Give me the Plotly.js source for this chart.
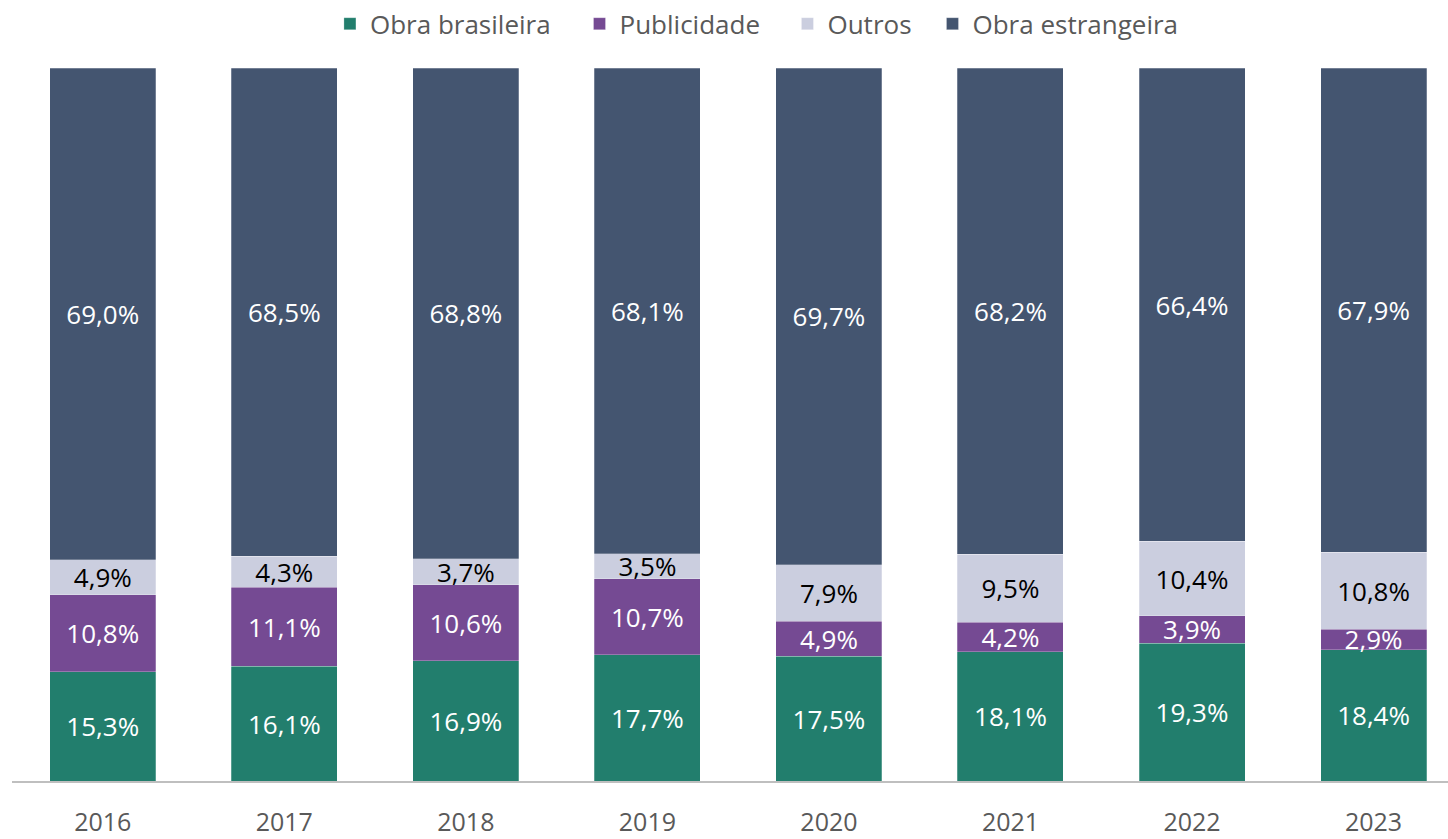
<!DOCTYPE html>
<html>
<head>
<meta charset="utf-8">
<script src="https://cdn.plot.ly/plotly-3.0.1.min.js"></script>
<style>html,body{margin:0;padding:0;background:#fff;}#chart{width:1448px;height:839px;}</style>
</head>
<body>
<div id="chart"></div>
<script>
const years = ['2016','2017','2018','2019','2020','2021','2022','2023'];
const obraBrasileira = [15.3, 16.1, 16.9, 17.7, 17.5, 18.1, 19.3, 18.4];
const publicidade = [10.8, 11.1, 10.6, 10.7, 4.9, 4.2, 3.9, 2.9];
const outros = [4.9, 4.3, 3.7, 3.5, 7.9, 9.5, 10.4, 10.8];
const obraEstrangeira = [69.0, 68.5, 68.8, 68.1, 69.7, 68.2, 66.4, 67.9];

const FONT = '"Segoe UI", "Open Sans", sans-serif';
function mk(name, vals, color, txtColor, leg) {
  return {
    type: 'bar', name: name, x: years, y: vals, legend: leg,
    marker: {color: color, line: {color: 'rgba(255,255,255,0.5)', width: 0.5}},
    texttemplate: '%{y:.1f}%',
    textposition: 'inside', insidetextanchor: 'middle',
    constraintext: 'none',
    textfont: {family: FONT, size: 26, color: txtColor},
    hoverinfo: 'skip'
  };
}
const data = [
  mk('Obra brasileira', obraBrasileira, '#227E6D', '#ffffff', 'legend'),
  mk('Publicidade', publicidade, '#754A93', '#ffffff', 'legend2'),
  mk('Outros', outros, '#CBCEDF', '#000000', 'legend3'),
  mk('Obra estrangeira', obraEstrangeira, '#445570', '#ffffff', 'legend4')
];
function leg(x) {
  return {orientation: 'h', x: x, xanchor: 'left', y: 1.062, yanchor: 'middle',
          bgcolor: 'rgba(0,0,0,0)', font: {family: FONT, size: 26, color: '#595959'}, itemwidth: 30};
}
const layout = {
  width: 1448, height: 839,
  margin: {l: 12, r: 0, t: 68, b: 58},
  barmode: 'stack', bargap: 0.416,
  separators: ',.',
  paper_bgcolor: '#ffffff', plot_bgcolor: '#ffffff',
  font: {family: FONT, size: 26, color: '#595959'},
  showlegend: true,
  legend: leg(0.2214),
  legend2: leg(0.3952),
  legend3: leg(0.5400),
  legend4: leg(0.6410),
  xaxis: {type: 'category', range: [-0.5, 7.41], showline: true, linecolor: '#BFBFBF', linewidth: 2,
          showgrid: false, zeroline: false, ticks: '', ticklabelstandoff: 18,
          tickfont: {family: FONT, size: 25, color: '#595959'}, fixedrange: true},
  yaxis: {range: [0, 100], visible: false, showgrid: false, zeroline: false, fixedrange: true}
};
Plotly.newPlot('chart', data, layout, {displayModeBar: false, staticPlot: true});
</script>
</body>
</html>
